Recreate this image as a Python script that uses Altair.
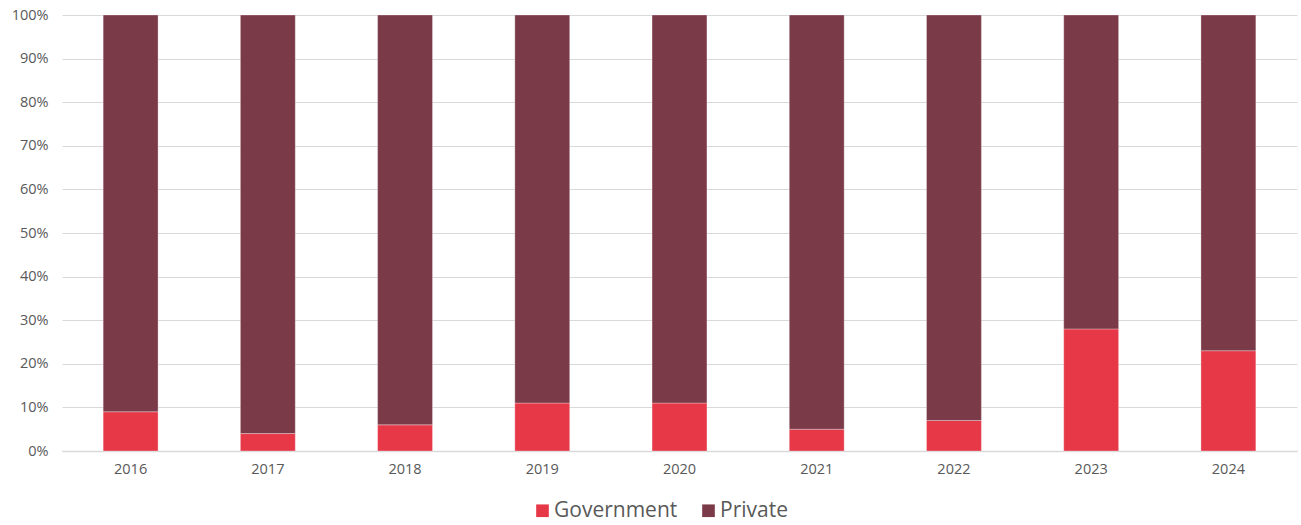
import altair as alt
import pandas as pd

years = ["2016", "2017", "2018", "2019", "2020", "2021", "2022", "2023", "2024"]
government = [9, 4, 6, 11, 11, 5, 7, 28, 23]
private = [91, 96, 94, 89, 89, 95, 93, 72, 77]
series = ["Government", "Private"]
colors = ["#E63847", "#7B3A48"]
y_ticks = [0, 0.1, 0.2, 0.3, 0.4, 0.5, 0.6, 0.7, 0.8, 0.9, 1.0]

rows = []
for i, y in enumerate(years):
    rows.append({"year": y, "series": "Government", "value": government[i] / 100, "ord": 0})
    rows.append({"year": y, "series": "Private", "value": private[i] / 100, "ord": 1})
df = pd.DataFrame(rows)

font = "Open Sans"

chart = alt.Chart(df).mark_bar(stroke="#ffffff", strokeWidth=0.6, strokeOpacity=0.5).encode(
    x=alt.X("year:N", title=None, sort=years,
            scale=alt.Scale(paddingInner=0.6, paddingOuter=0.3),
            axis=alt.Axis(labelAngle=0, ticks=False, domain=True, domainColor="#D9D9D9",
                          domainWidth=1.5, grid=False, labelPadding=11, labelFontSize=14.5,
                          labelColor="#595959", labelFont=font)),
    y=alt.Y("value:Q", title=None, stack="zero",
            scale=alt.Scale(domain=[0, 1], nice=False),
            axis=alt.Axis(values=y_ticks, format=".0%", ticks=False, domain=False,
                          grid=True, gridColor="#D9D9D9", gridWidth=1.2,
                          labelPadding=14, labelFontSize=14.5, labelColor="#595959",
                          labelFont=font)),
    color=alt.Color("series:N", title=None,
                    scale=alt.Scale(domain=series, range=colors),
                    legend=alt.Legend(orient="none", direction="horizontal",
                                      legendX=470, legendY=485,
                                      symbolType="square", symbolSize=160,
                                      symbolStrokeWidth=0, labelFontSize=21,
                                      labelColor="#595959", labelFont=font,
                                      labelOffset=1, columnPadding=20, symbolOffset=0)),
    order=alt.Order("ord:Q", sort="ascending"),
).properties(
    width=1235, height=436,
    autosize=alt.AutoSizeParams(type="none"),
    padding={"left": 62, "top": 15, "right": 4, "bottom": 74},
).configure(background="#ffffff", view=alt.ViewConfig(stroke=None))

chart.save("out.html", embed_options={"renderer": "svg", "actions": False})
